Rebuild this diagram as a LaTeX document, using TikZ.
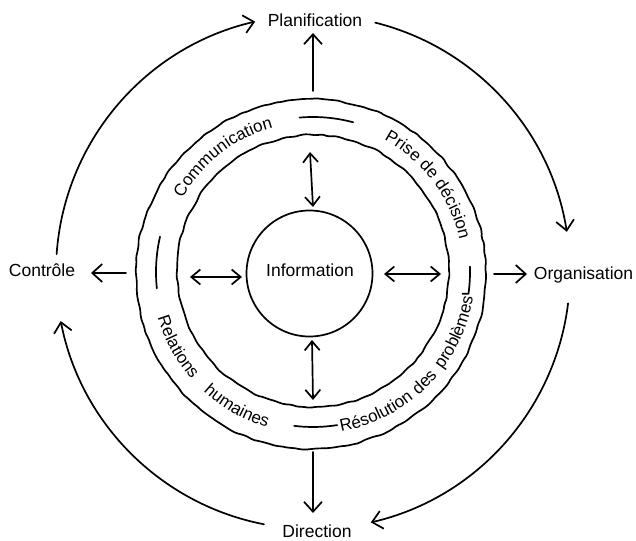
\documentclass[tikz,border=0pt]{standalone}
\usepackage{fontspec}
\setmainfont{Liberation Sans}
\usetikzlibrary{arrows.meta,decorations.text,decorations.pathmorphing}

\begin{document}
\begin{tikzpicture}[x=1pt,y=1pt,
  line width=1.7pt, line cap=round, line join=round,
  tip/.style={-{Straight Barb[length=10pt,width=18pt]}},
  tips/.style={{Straight Barb[length=9pt,width=15pt]}-{Straight Barb[length=9pt,width=15pt]}},
  lbl/.style={font=\fontsize{17.5}{21}\selectfont, inner sep=3pt},
  ringline/.style={decorate, decoration={random steps, segment length=6pt, amplitude=0.9pt}, rounded corners=2pt},
  ringtext/.style={decorate, decoration={text along path, text align=center,
      text={|\fontsize{17}{20}\selectfont|#1}}},
]
\pgfmathsetseed{7}
\useasboundingbox (-313,-268) rectangle (323,272);

% the four functions around the core
\node[lbl, anchor=base] (pl)  at (2,245)    {Planification};
\node[lbl, anchor=base] (dir) at (4,-265)   {Direction};
\node[lbl, anchor=base] (ctl) at (-271,-5)  {Contrôle};
\node[lbl, anchor=base east, inner xsep=0pt] (org) at (321,-8) {Organisation};

% core
\node[lbl, anchor=base] (inf) at (-3,-5) {Information};
\draw (-3.5,-1.5) circle[radius=63];

% ring of management activities
\draw[ringline] (0,1) circle[radius=136];
\draw[ringline] (-2,-2) circle[radius=175];

% separators between the ring labels
\draw (95:155) arc[start angle=95, end angle=75, radius=155];
\draw (263:155) arc[start angle=263, end angle=279, radius=155];
\draw (167:157) arc[start angle=167, end angle=186, radius=157];
\draw (2:157) arc[start angle=2, end angle=-8, radius=157] -- ++(-6,0);

% ring labels
\path[ringtext=Communication] (163:150) arc[start angle=163, end angle=93, radius=150];
\path[ringtext={Prise de décision}] (75:150) arc[start angle=75, end angle=-1, radius=150];
\path[ringtext=Relations] (189:162) arc[start angle=189, end angle=229, radius=162];
\path[ringtext=humaines] (220.5:162) arc[start angle=220.5, end angle=260.5, radius=162];
\path[ringtext=Résolution] (274.2:162) arc[start angle=274.2, end angle=314.2, radius=162];
\path[ringtext=des] (305.4:162) arc[start angle=305.4, end angle=325.4, radius=162];
\path[ringtext=problèmes] (317:162) arc[start angle=317, end angle=357, radius=162];

% exchanges between core and ring
\coordinate (iL1) at (-123,-5); \coordinate (iL2) at (-71,-5);
\coordinate (iR1) at (71,-2);   \coordinate (iR2) at (128,-2);
\coordinate (iT1) at (-3,120);  \coordinate (iT2) at (0,65);
\coordinate (iB1) at (-1,-68);  \coordinate (iB2) at (0,-128);
\draw[tips] (iL1) -- (iL2);
\draw[tips] (iR1) -- (iR2);
\draw[tips] (iT1) -- (iT2);
\draw[tips] (iB1) -- (iB2);

% from the ring out to each function
\coordinate (oT) at (0,181);   \coordinate (oTt) at (0,239);
\coordinate (oB) at (0,-180);  \coordinate (oBt) at (0,-241);
\coordinate (oL) at (-187,-1); \coordinate (oLt) at (-222,-1);
\coordinate (oR) at (181,-2);  \coordinate (oRt) at (214,-2);
\draw[tip] (oT) -- (oTt);
\draw[tip] (oB) -- (oBt);
\draw[tip] (oL) -- (oLt);
\draw[tip] (oR) -- (oRt);

% management cycle
\draw[tip] (176:257) arc[start angle=176, end angle=103, radius=257];
\draw[tip] (76:257) arc[start angle=76, end angle=9, radius=257];
\draw[tip] (-7:257) arc[start angle=-7, end angle=-77, radius=257];
\draw[tip] (-101:257) arc[start angle=-101, end angle=-169, radius=257];
\end{tikzpicture}
\end{document}
